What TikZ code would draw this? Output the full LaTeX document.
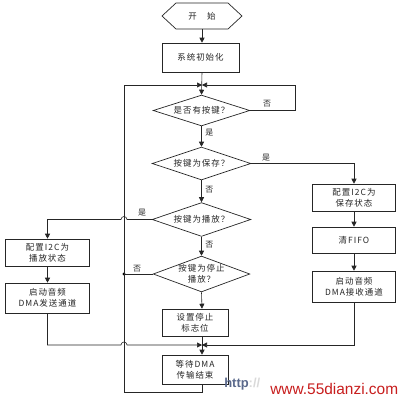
\documentclass[tikz,border=0pt]{standalone}
\usepackage{fontspec}
\newfontfamily\cjkfont[LetterSpace=12]{Noto Sans CJK SC}
\newfontfamily\wmfont{Liberation Sans}
\usetikzlibrary{arrows.meta,shapes.geometric,calc}
\begin{document}
\begin{tikzpicture}[x=1bp,y=-1bp,
  line width=0.6pt, draw=black!85,
  base/.style={font=\cjkfont\fontsize{8.5}{11}\selectfont, text=black!85, align=center, inner sep=0pt},
  box/.style={base, draw, rectangle, line width=0.7pt},
  dia/.style={draw, diamond, inner sep=0pt, line width=0.7pt},
  arr/.style={-{Triangle[length=5bp,width=5bp]}},
  lbl/.style={font=\cjkfont\fontsize{8}{9}\selectfont, text=black!85, inner sep=1pt},
]
\fill[white] (0,0) rectangle (404,401);
\useasboundingbox (0,0) rectangle (404,401);

\coordinate (mx) at (202,0);
\coordinate (lx) at (124,0);

% start hexagon
\node[base, minimum width=80, minimum height=26] (start) at (202,16) {开\hspace{1.2em}始};
\draw[line width=0.7pt] (162,16) -- (176,3) -- (228,3) -- (242,16) -- (228,29) -- (176,29) -- cycle;

% main column
\node[box, minimum width=77, minimum height=29] (init) at (200.5,57.5) {系统初始化};
\node[dia, minimum width=97, minimum height=31] (d1) at (201.5,110.5) {};
\node[base] (d1t) at (d1) {是否有按键？};
\node[dia, minimum width=99, minimum height=33] (d2) at (201.5,163.5) {};
\node[base] (d2t) at (d2) {按键为保存？};
\node[dia, minimum width=99, minimum height=34] (d3) at (201.5,219.5) {};
\node[base] (d3t) at (d3) {按键为播放？};
\node[dia, minimum width=97, minimum height=36] (d4) at (201.5,274) {};
\node[base] (d4t) at (d4) {按键为停止\\播放？};
\node[box, minimum width=66, minimum height=27] (stop) at (195,322.5) {设置停止\\标志位};
\node[box, minimum width=66, minimum height=29] (wait) at (195,369.5) {等待DMA\\传输结束};

% left column
\node[box, minimum width=85, minimum height=27] (l1) at (47.5,252.5) {配置I2C为\\播放状态};
\node[box, minimum width=85, minimum height=30] (l2) at (47.5,298) {启动音频\\DMA发送通道};

% right column
\node[box, minimum width=84, minimum height=27] (r1) at (354,197.5) {配置I2C为\\保存状态};
\node[box, minimum width=84, minimum height=26] (r2) at (354,240) {清FIFO};
\node[box, minimum width=84, minimum height=31] (r3) at (354,286.5) {启动音频\\DMA接收通道};

\coordinate (top) at (202,85);
\coordinate (merge) at (202,345);

% connectors
\draw[arr] (start.south) -- (init.north -| start.south);
\draw[arr] (init.south -| mx) -- (d1.north);
\draw[arr] (d1.east) -- (295,110.5) -- (295,85) -- (top);
\draw[arr] (d1.south) -- (d2.north);
\draw[arr] (d2.east) -- (r1.north |- d2.east) -- (r1.north);
\draw[arr] (d2.south) -- (d3.north);
\draw[arr] (d3.west) -- ($(lx |- d3.west)+(3,0)$) arc (0:-180:3) -- (l1.north |- d3.west) -- (l1.north);
\draw[arr] (d3.south) -- (d4.north);
\draw (d4.west) -- (lx |- d4.west);
\fill (lx |- d4.west) circle (1.6);
\draw[arr] (d4.south) -- (stop.north -| mx);
\draw[arr] (stop.south -| mx) -- (wait.north -| mx);
\draw[arr] (l1.south) -- (l2.north);
\draw[arr] (l2.south) -- (l2.south |- merge) -- ($(lx |- merge)-(3,0)$) arc (180:360:3) -- (merge);
\draw[arr] (r1.south) -- (r2.north);
\draw[arr] (r2.south) -- (r3.north);
\draw[arr] (r3.south) -- (r3.south |- merge) -- (merge);
\draw[arr] (wait.south -| mx) -- (202,392) -- (124,392) -- (124,85) -- (top);

% labels
\node[lbl] (n1) at (267,104) {否};
\node[lbl, anchor=west] (y1) at (204,133) {是};
\node[lbl] (y2) at (266,158) {是};
\node[lbl, anchor=west] (n2) at (204,190) {否};
\node[lbl] (y3) at (142,213) {是};
\node[lbl, anchor=west] (n3) at (204,245) {否};
\node[lbl] (n4) at (137,269) {否};

% watermark
\node[font=\wmfont\bfseries\fontsize{13}{13}\selectfont, text={rgb,255:red,90;green,105;blue,140}, anchor=west, inner sep=0pt] (wm1) at (224,384) {http\textcolor{black!15}{://}};
\node[font=\wmfont\fontsize{15.5}{16}\selectfont, text={rgb,255:red,200;green,30;blue,30}, anchor=west, inner sep=0pt] (wm2) at (270,389) {www.55dianzi.com};
\end{tikzpicture}
\end{document}
